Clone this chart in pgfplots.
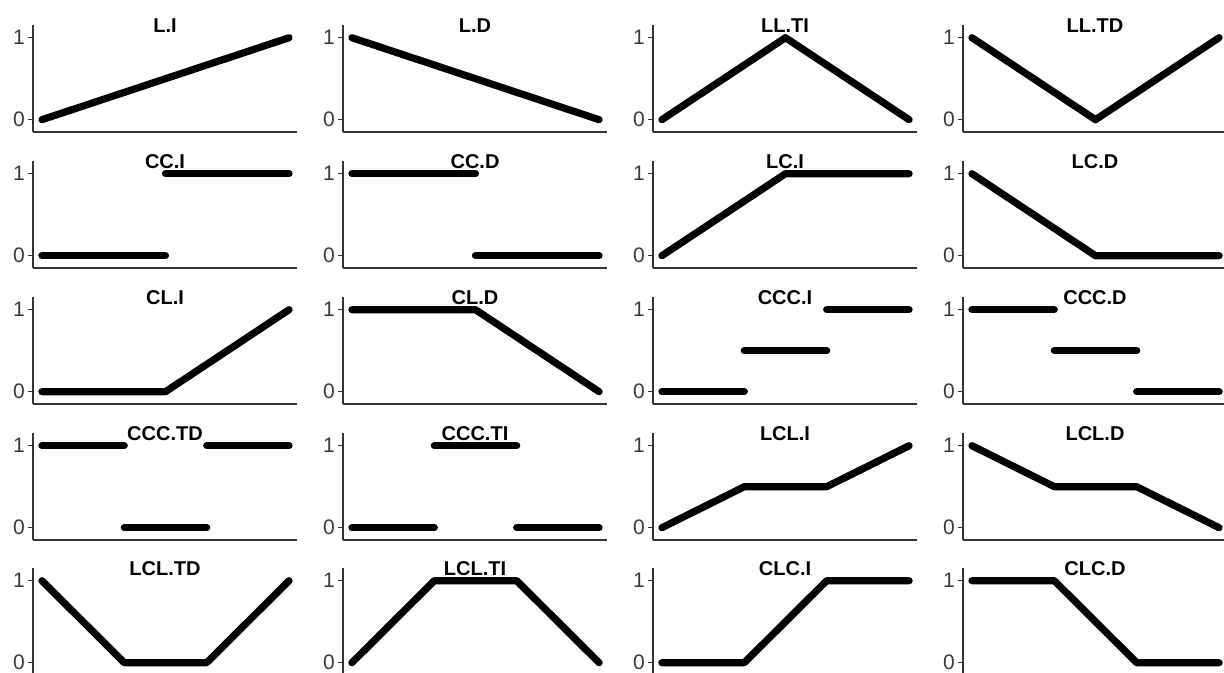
\documentclass[border=0pt]{standalone}
\usepackage{fontspec}
\setmainfont{Liberation Sans}
\usepackage{pgfplots}
\pgfplotsset{compat=1.18}
\definecolor{axgray}{HTML}{333333}
\definecolor{txtgray}{HTML}{3A3A3A}

\pgfplotsset{panel/.style={
    scale only axis, width=264bp, height=107bp,
    xmin=-0.036, xmax=1.032, ymin=-0.15, ymax=1.155,
    axis x line*=bottom, axis y line*=left,
    axis line style={draw=axgray, line width=1.2bp, -},
    xtick=\empty, ytick={0,1},
    tick align=outside, major tick length=5bp,
    tick style={draw=axgray, line width=1.2bp},
    tick label style={font=\fontsize{21bp}{21bp}\selectfont, text=txtgray, inner xsep=3bp},
    /pgf/number format/assume math mode=true,
    unbounded coords=jump, clip=false,
    anchor=south west,
}}

% #1 x, #2 y (bp), #3 title, #4 coordinates
\newcommand{\panel}[4]{%
  \begin{axis}[panel, at={(#1bp,#2bp)}]
    \addplot[black, line width=7.2bp, line cap=round, line join=round] coordinates {#4};
    \node[anchor=base, yshift=-8bp, font=\fontsize{20bp}{20bp}\selectfont\bfseries] at (rel axis cs:0.5,1) {#3};
  \end{axis}}

\begin{document}
\begin{tikzpicture}
\useasboundingbox (0,0) rectangle (1224bp,673bp);

% row 1
\panel{33}{541}{L.I}{(0,0) (1,1)}
\panel{343}{541}{L.D}{(0,1) (1,0)}
\panel{653}{541}{LL.TI}{(0,0) (0.5,1) (1,0)}
\panel{963}{541}{LL.TD}{(0,1) (0.5,0) (1,1)}

% row 2
\panel{33}{405}{CC.I}{(0,0) (0.5,0) (0.5,nan) (0.5,1) (1,1)}
\panel{343}{405}{CC.D}{(0,1) (0.5,1) (0.5,nan) (0.5,0) (1,0)}
\panel{653}{405}{LC.I}{(0,0) (0.5,1) (1,1)}
\panel{963}{405}{LC.D}{(0,1) (0.5,0) (1,0)}

% row 3
\panel{33}{269}{CL.I}{(0,0) (0.5,0) (1,1)}
\panel{343}{269}{CL.D}{(0,1) (0.5,1) (1,0)}
\panel{653}{269}{CCC.I}{(0,0) (0.3333,0) (0.3333,nan) (0.3333,0.5) (0.6667,0.5) (0.6667,nan) (0.6667,1) (1,1)}
\panel{963}{269}{CCC.D}{(0,1) (0.3333,1) (0.3333,nan) (0.3333,0.5) (0.6667,0.5) (0.6667,nan) (0.6667,0) (1,0)}

% row 4
\panel{33}{133}{CCC.TD}{(0,1) (0.3333,1) (0.3333,nan) (0.3333,0) (0.6667,0) (0.6667,nan) (0.6667,1) (1,1)}
\panel{343}{133}{CCC.TI}{(0,0) (0.3333,0) (0.3333,nan) (0.3333,1) (0.6667,1) (0.6667,nan) (0.6667,0) (1,0)}
\panel{653}{133}{LCL.I}{(0,0) (0.3333,0.5) (0.6667,0.5) (1,1)}
\panel{963}{133}{LCL.D}{(0,1) (0.3333,0.5) (0.6667,0.5) (1,0)}

% row 5
\panel{33}{-2}{LCL.TD}{(0,1) (0.3333,0) (0.6667,0) (1,1)}
\panel{343}{-2}{LCL.TI}{(0,0) (0.3333,1) (0.6667,1) (1,0)}
\panel{653}{-2}{CLC.I}{(0,0) (0.3333,0) (0.6667,1) (1,1)}
\panel{963}{-2}{CLC.D}{(0,1) (0.3333,1) (0.6667,0) (1,0)}
\end{tikzpicture}
\end{document}
